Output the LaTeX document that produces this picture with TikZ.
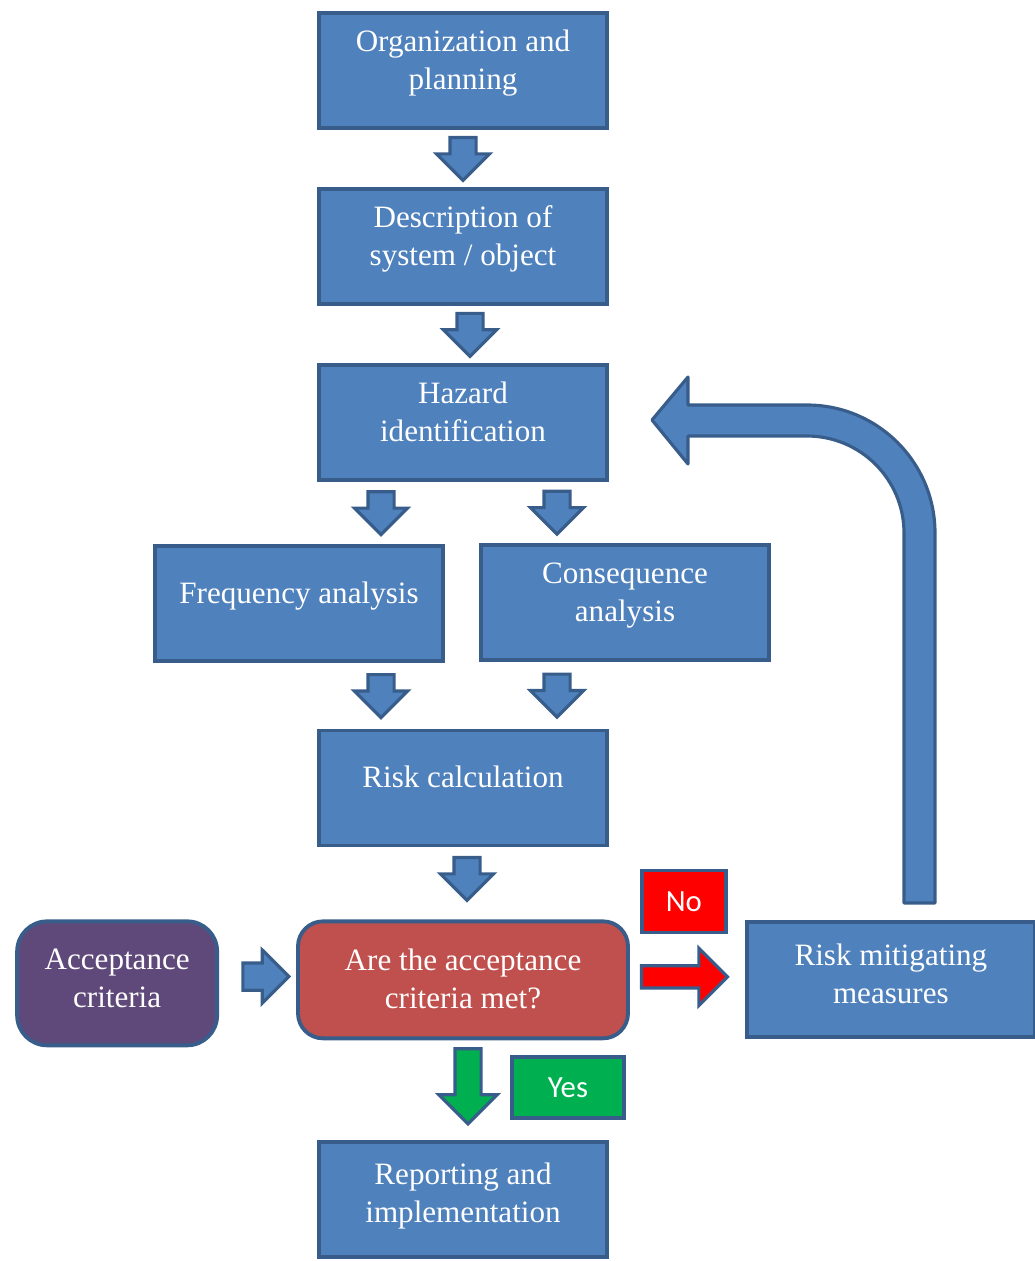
\documentclass[tikz,border=0pt]{standalone}
\usepackage{fontspec}
\setmainfont{Liberation Serif}
\newfontfamily\tagfont{Carlito}
\usetikzlibrary{positioning}
\usetikzlibrary{calc}
\usetikzlibrary{shapes.arrows}

\definecolor{boxblue}{RGB}{79,129,189}
\definecolor{edgeblue}{RGB}{56,93,138}
\definecolor{critpurple}{RGB}{95,73,122}
\definecolor{checkred}{RGB}{192,80,77}
\definecolor{nored}{RGB}{255,0,0}
\definecolor{yesgreen}{RGB}{0,176,80}

% lines of a box, centred on the axis
\newcommand{\boxlines}[1]{\begin{tabular}{@{}c@{}}#1\end{tabular}}

\begin{document}
\begin{tikzpicture}[box/.style={rectangle, draw=edgeblue, fill=boxblue, line width=2.2pt, text=white,
            minimum width=5.76cm, minimum height=2.3cm, inner sep=0pt,
            font=\fontsize{17.7}{21.6}\selectfont, text height=0pt, text depth=0pt},
        tag/.style={rectangle, draw=edgeblue, line width=2.2pt, text=white, inner sep=0pt,
            minimum width=1.68cm, minimum height=1.24cm, font=\tagfont\fontsize{17.5}{21}\selectfont},
        blockarrow/.style={single arrow, draw=edgeblue, fill=boxblue, line width=1.8pt, inner sep=0.23cm,
            single arrow head extend=0.27cm},
        downarrow/.style={blockarrow, shape border rotate=270, minimum height=0.86cm, yshift=0.12cm}]
        \useasboundingbox (0,0) rectangle (20.7,-25.22);

        \node[box] (org) at (9.26,-1.41) {\boxlines{Organization and\\planning}};
        \node[box] (desc) [below=1.14cm of org] {\boxlines{Description of\\system / object}};
        \node[box] (haz) [below=1.14cm of desc] {\boxlines{Hazard\\identification}};
        \node[box] (freq) [below=1.24cm of haz, xshift=-3.28cm] {\boxlines{Frequency analysis}};
        \node[box] (cons) [below=1.22cm of haz, xshift=3.24cm] {\boxlines{Consequence\\analysis}};
        \node[box] (calc) [below=1.32cm of freq, xshift=3.28cm] {\boxlines{Risk calculation}};
        \node[box, fill=checkred, minimum width=6.6cm, minimum height=2.34cm, rounded corners=0.5cm] (check)
            [below=1.44cm of calc] {\raisebox{-0.2cm}{\boxlines{Are the acceptance\\criteria met?}}};
        \node[box, fill=critpurple, minimum width=4.0cm, minimum height=2.48cm, rounded corners=0.6cm] (crit)
            [left=1.54cm of check, yshift=-0.07cm] {\raisebox{-0.1cm}{\boxlines{Acceptance\\criteria}}};
        \node[box] (mit) [right=2.30cm of check] {\raisebox{-0.1cm}{\boxlines{Risk mitigating\\measures}}};
        \node[box] (report) [below=2.0cm of check] {\raisebox{-0.08cm}{\boxlines{Reporting and\\implementation}}};

        \node[tag, fill=nored] (no) [above right=-0.30cm and 0.20cm of check] {No};
        \node[tag, fill=yesgreen, minimum width=2.24cm, minimum height=1.22cm, anchor=north east] (yes)
            at ([xshift=-0.08cm, yshift=-0.30cm]check.south east) {Yes};

        \node[downarrow] (a1) at ($(org.south)!0.5!(desc.north)$) {};
        \node[downarrow, xshift=0.14cm] (a2) at ($(desc.south)!0.5!(haz.north)$) {};
        \node[downarrow] (a3) at ($(haz.south)!0.5!(freq.north)$) {};
        \node[downarrow, xshift=0.26cm] (a4) at ($(haz.south)!0.5!(cons.north)$) {};
        \node[downarrow] (a5) at ($(freq.south)!0.5!(calc.north)$) {};
        \node[downarrow, xshift=0.26cm] (a6) at ($(cons.south)!0.5!(calc.north)$) {};
        \node[downarrow, xshift=0.08cm, yshift=0.1cm] (a7) at ($(calc.south)!0.5!(check.north)$) {};
        \node[downarrow, fill=yesgreen, minimum height=1.5cm, single arrow head extend=0.32cm,
            xshift=0.1cm, yshift=0.09cm] (a8) at ($(check.south)!0.5!(report.north)$) {};
        \node[blockarrow, minimum height=0.92cm, inner sep=0.24cm, single arrow head extend=0.26cm,
            xshift=0.03cm, yshift=0.1cm] (a9) at ($(crit.east)!0.5!(check.west)$) {};
        \node[blockarrow, fill=nored, minimum height=1.72cm, inner sep=0.19cm, single arrow head extend=0.35cm,
            xshift=-0.17cm, yshift=0.06cm] (a10) at ($(check.east)!0.5!(mit.west)$) {};

        % loop back from the measures to the hazards
        \coordinate (loopfoot) at (18.08,-18.06);
        \draw[draw=edgeblue, fill=boxblue, line width=1.8pt, line join=round] (loopfoot) -- (18.08,-10.66)
            arc[start angle=0, end angle=90, radius=1.94] -- (13.76,-8.72) -- (13.76,-9.28) -- (13.04,-8.40)
            -- (13.76,-7.54) -- (13.76,-8.10) -- (16.14,-8.10) arc[start angle=90, end angle=0, radius=2.56]
            -- (18.70,-18.06) -- cycle;
    \end{tikzpicture}
\end{document}
